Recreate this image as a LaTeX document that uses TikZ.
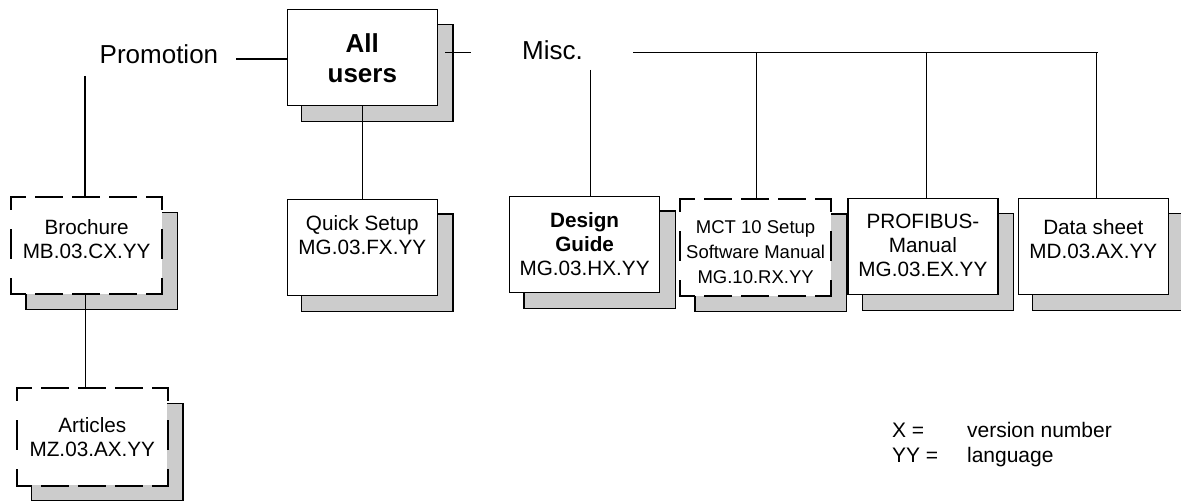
\documentclass[tikz,border=0pt]{standalone}
\usepackage{fontspec}
\setmainfont{Liberation Sans}
\usetikzlibrary{backgrounds}
\definecolor{shadowgray}{RGB}{204,204,204}
\newcommand\boxtext[2]{\parbox[c][48pt][t]{75pt}{\centering\vspace*{#1}\strut#2}}
\tikzset{
  box/.style={draw=black, line width=0.6pt, fill=white, inner sep=0pt,
    minimum width=75pt, minimum height=48pt, anchor=north west,
    font=\fontsize{10.35}{12}\selectfont},
  dbox/.style={box, draw=none},
  shadowbox/.style={draw=black, line width=0.6pt, fill=shadowgray},
  conn/.style={draw=black, line width=0.6pt},
  hdash/.style={draw=black, line width=1pt, line cap=rect, dash pattern=on 13pt off 5.5pt, dash phase=6pt},
  vdash/.style={draw=black, line width=1pt, line cap=rect, dash pattern=on 14pt off 10.5pt, dash phase=8pt},
  lbl/.style={inner sep=0pt, anchor=base west, font=\fontsize{13}{15}\selectfont},
  legend/.style={inner sep=0pt, anchor=base west, font=\fontsize{10.5}{12}\selectfont},
}
\begin{document}
\begin{tikzpicture}[x=0.5pt,y=-0.5pt]
\useasboundingbox (0,0) rectangle (1181,501);
% boxes
\node[box, font=\fontsize{13}{15}\selectfont\bfseries] (all) at (286.7,9.3) {\boxtext{10.7pt}{All\\users}};
\node[dbox] (bro) at (11,197.3) {\boxtext{9.7pt}{Brochure\\MB.03.CX.YY}};
\node[dbox] (art) at (16.7,388.3) {\boxtext{13.6pt}{Articles\\MZ.03.AX.YY}};
\node[box] (qs) at (286.7,199) {\boxtext{6.85pt}{Quick Setup\\MG.03.FX.YY}};
\node[box] (dg) at (509,196) {\boxtext{7.25pt}{{\bfseries Design\\Guide}\\MG.03.HX.YY}};
\node[dbox, font=\fontsize{9.25}{12.5}\selectfont] (mct) at (680,199) {\boxtext{8.4pt}{MCT 10 Setup\\Software Manual\\MG.10.RX.YY}};
\node[box] (prof) at (847.3,198.3) {\boxtext{6.3pt}{PROFIBUS-\\Manual\\MG.03.EX.YY}};
\node[box] (ds) at (1017.7,198.3) {\boxtext{9.6pt}{Data sheet\\MD.03.AX.YY}};
% labels
\node[lbl] (prom) at (99.3,63.3) {Promotion};
\node[lbl] (misc) at (521.7,60) {Misc.};
\node[legend] (lx) at (891.7,437.7) {X =};
\node[legend] (lxv) at (966.7,437.7) {version number};
\node[legend] (ly) at (891.7,462.3) {YY =};
\node[legend] (lyv) at (966.7,462.3) {language};
% shadows
\begin{scope}[on background layer]
\foreach \n in {all,bro,art,qs,dg,mct,prof,ds}{
  \draw[shadowbox] ([shift={(15,15)}]\n.south west) rectangle ([shift={(15,15)}]\n.north east);
}
\end{scope}
% dashed frames
\foreach \n in {bro,art,mct}{
  \draw[hdash] (\n.north west) -- (\n.north east) (\n.south west) -- (\n.south east);
  \draw[vdash] (\n.north west) -- (\n.south west) (\n.north east) -- (\n.south east);
}
% connectors
\draw[conn] ([shift={(17.7,-4.3)}]prom.base east) coordinate (p1) -- (p1 -| all.west);
\draw[conn] ([shift={(-14.3,12.7)}]prom.base west) coordinate (p2) -- (p2 |- bro.north);
\draw[conn] ([shift={(-51,-7.7)}]misc.base west) coordinate (m1) -- ([xshift=3.65pt]all.east |- m1);
\draw[conn] ([shift={(7.6,10)}]misc.base east) coordinate (m2) -- (m2 |- dg.north);
\draw[conn] ([shift={(50,-7.7)}]misc.base east) coordinate (h0) -- ([xshift=2.5pt]ds.north |- h0);
\draw[conn] ([xshift=0.5pt]mct.north |- h0) -- ([xshift=0.5pt]mct.north);
\draw[conn] ([xshift=1.7pt]prof.north |- h0) -- ([xshift=1.7pt]prof.north);
\draw[conn] ([xshift=1.65pt]ds.north |- h0) -- ([xshift=1.65pt]ds.north);
\draw[conn] (all.south) -- (qs.north);
\draw[conn] ([xshift=-0.5pt]bro.south) -- ([xshift=-0.5pt]bro.south |- art.north);
\end{tikzpicture}
\end{document}
